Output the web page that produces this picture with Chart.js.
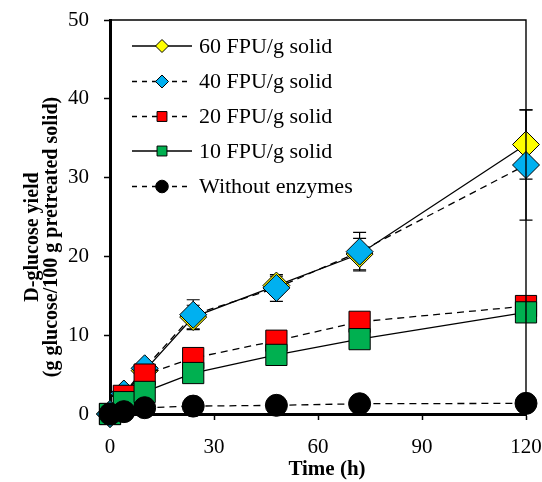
<!DOCTYPE html>
<html>
<head>
<meta charset="utf-8">
<script src="https://cdn.jsdelivr.net/npm/chart.js@4"></script>
<style>
  html, body { margin: 0; padding: 0; background: #fff; }
  #wrap { width: 542px; height: 482px; }
</style>
</head>
<body>
<div id="wrap"><canvas id="myChart" width="542" height="482"></canvas></div>
<script>
// values
const times = [0, 4, 10, 24, 48, 72, 120];
const fpu60 = [0, 2.5, 5.5, 12.3, 16.3, 20.3, 34.2];
const fpu40 = [0, 2.6, 5.8, 12.6, 16.0, 20.6, 31.6];
const fpu20 = [0, 2.3, 5.0, 7.1, 9.3, 11.7, 13.7];
const fpu10 = [0, 1.5, 2.8, 5.2, 7.5, 9.5, 12.9];
const noEnzyme = [0, 0.3, 0.8, 1.0, 1.1, 1.3, 1.35];
const err60 = [0, 0, 0, 1.5, 1.2, 2.0, 4.4];
const err40 = [0, 0, 0, 1.9, 1.7, 2.45, 7.0];
const xTicks = [0, 30, 60, 90, 120];
const yTicks = [0, 10, 20, 30, 40, 50];

const serif = "'Liberation Serif', 'Times New Roman', serif";

function pts(ys) {
  return times.map((t, i) => ({ x: t, y: ys[i] }));
}

function series(label, ys, color, style, dashed, radius, order, legendRadius) {
  return {
    label: label,
    data: pts(ys),
    borderColor: '#000',
    borderWidth: 1.3,
    borderDash: dashed ? [7, 5] : [],
    pointStyle: style,
    pointRadius: radius,
    pointHoverRadius: radius,
    pointBackgroundColor: color,
    pointBorderColor: '#000',
    pointBorderWidth: 1,
    clip: false,
    order: order,
    legendRadius: legendRadius
  };
}

const datasets = [
  series('60 FPU/g solid', fpu60, '#FFFF00', 'rectRot', false, 13.5, 5, 6.5),
  series('40 FPU/g solid', fpu40, '#00B0F0', 'rectRot', true, 13.5, 4, 6.5),
  series('20 FPU/g solid', fpu20, '#FF0000', 'rect', true, 15, 3, 7),
  series('10 FPU/g solid', fpu10, '#00B050', 'rect', false, 15, 2, 7),
  series('Without enzymes', noEnzyme, '#000000', 'circle', true, 11, 1, 6.3)
];
datasets[0].errors = err60;
datasets[1].errors = err40;

// error bars, under the markers
const errorBars = {
  id: 'errorBars',
  beforeDatasetsDraw(chart) {
    const ctx = chart.ctx;
    const xs = chart.scales.x, ys = chart.scales.y;
    ctx.save();
    ctx.strokeStyle = '#000';
    ctx.lineWidth = 1.2;
    chart.data.datasets.forEach(ds => {
      if (!ds.errors) return;
      ds.data.forEach((p, i) => {
        const e = ds.errors[i];
        if (!e) return;
        const px = xs.getPixelForValue(p.x);
        const top = ys.getPixelForValue(p.y + e);
        const bot = ys.getPixelForValue(p.y - e);
        ctx.beginPath();
        ctx.moveTo(px, top); ctx.lineTo(px, bot);
        ctx.moveTo(px - 6.5, top); ctx.lineTo(px + 6.5, top);
        ctx.moveTo(px - 6.5, bot); ctx.lineTo(px + 6.5, bot);
        ctx.stroke();
      });
    });
    ctx.restore();
  }
};

// frame, legend and axis titles
const decorations = {
  id: 'decorations',
  afterDraw(chart) {
    const ctx = chart.ctx;
    const a = chart.chartArea;
    ctx.save();
    ctx.strokeStyle = '#000';
    ctx.lineWidth = 1.4;
    ctx.beginPath();
    ctx.moveTo(a.left, a.top);
    ctx.lineTo(a.right, a.top);
    ctx.lineTo(a.right, a.bottom);
    ctx.stroke();

    // legend
    const rows = [46, 81.5, 116.5, 151, 186.5];
    chart.data.datasets.forEach((ds, i) => {
      const y = rows[i];
      ctx.strokeStyle = '#000';
      ctx.lineWidth = 1.5;
      ctx.setLineDash(ds.borderDash.length ? [5, 5] : []);
      ctx.beginPath();
      ctx.moveTo(132, y);
      ctx.lineTo(192, y);
      ctx.stroke();
      ctx.setLineDash([]);
      ctx.fillStyle = ds.pointBackgroundColor;
      ctx.lineWidth = 1;
      ctx.beginPath();
      const r = ds.legendRadius;
      if (ds.pointStyle === 'rectRot') {
        ctx.moveTo(162, y - r); ctx.lineTo(162 + r, y);
        ctx.lineTo(162, y + r); ctx.lineTo(162 - r, y);
        ctx.closePath();
      } else if (ds.pointStyle === 'rect') {
        const s = r * Math.SQRT1_2;
        ctx.rect(162 - s, y - s, 2 * s, 2 * s);
      } else {
        ctx.arc(162, y, r, 0, Math.PI * 2);
      }
      ctx.fill();
      ctx.stroke();
      ctx.fillStyle = '#000';
      ctx.font = '22px ' + serif;
      ctx.textAlign = 'left';
      ctx.textBaseline = 'middle';
      ctx.fillText(ds.label, 199, y + 1);
    });

    // axis titles
    ctx.fillStyle = '#000';
    ctx.font = 'bold 21px ' + serif;
    ctx.textAlign = 'center';
    ctx.textBaseline = 'middle';
    ctx.fillText('Time (h)', 327, 470);

    ctx.font = 'bold 20px ' + serif;
    ctx.translate(0, 237);
    ctx.rotate(-Math.PI / 2);
    ctx.fillText('D-glucose yield', 0, 33);
    ctx.fillText('(g glucose/100 g pretreated solid)', 0, 52);
    ctx.restore();
  }
};

function noPad(s) {
  s.paddingLeft = 0;
  s.paddingRight = 0;
  s.paddingTop = 0;
  s.paddingBottom = 0;
}

const config = {
  type: 'line',
  data: { datasets: datasets },
  options: {
    responsive: false,
    animation: false,
    layout: { padding: { top: 20, right: 16, left: 0, bottom: 0 } },
    plugins: {
      legend: { display: false },
      tooltip: { enabled: false }
    },
    scales: {
      x: {
        type: 'linear',
        min: 0,
        max: 120,
        afterFit: s => { s.height = 68; noPad(s); },
        afterBuildTicks: s => { s.ticks = xTicks.map(v => ({ value: v })); },
        ticks: { color: '#000', font: { family: serif, size: 21 }, padding: 15 },
        grid: { drawOnChartArea: false, tickLength: 6, color: '#000', tickWidth: 1.5 },
        border: { color: '#000', width: 3 }
      },
      y: {
        min: 0,
        max: 50,
        afterFit: s => { s.width = 110; noPad(s); },
        afterBuildTicks: s => { s.ticks = yTicks.map(v => ({ value: v })); },
        ticks: { color: '#000', font: { family: serif, size: 21 }, padding: 15 },
        grid: { drawOnChartArea: false, tickLength: 6, color: '#000', tickWidth: 1.5 },
        border: { color: '#000', width: 3 }
      }
    }
  },
  plugins: [errorBars, decorations]
};

var myChart = new Chart(document.getElementById('myChart'), config);
</script>
</body>
</html>
